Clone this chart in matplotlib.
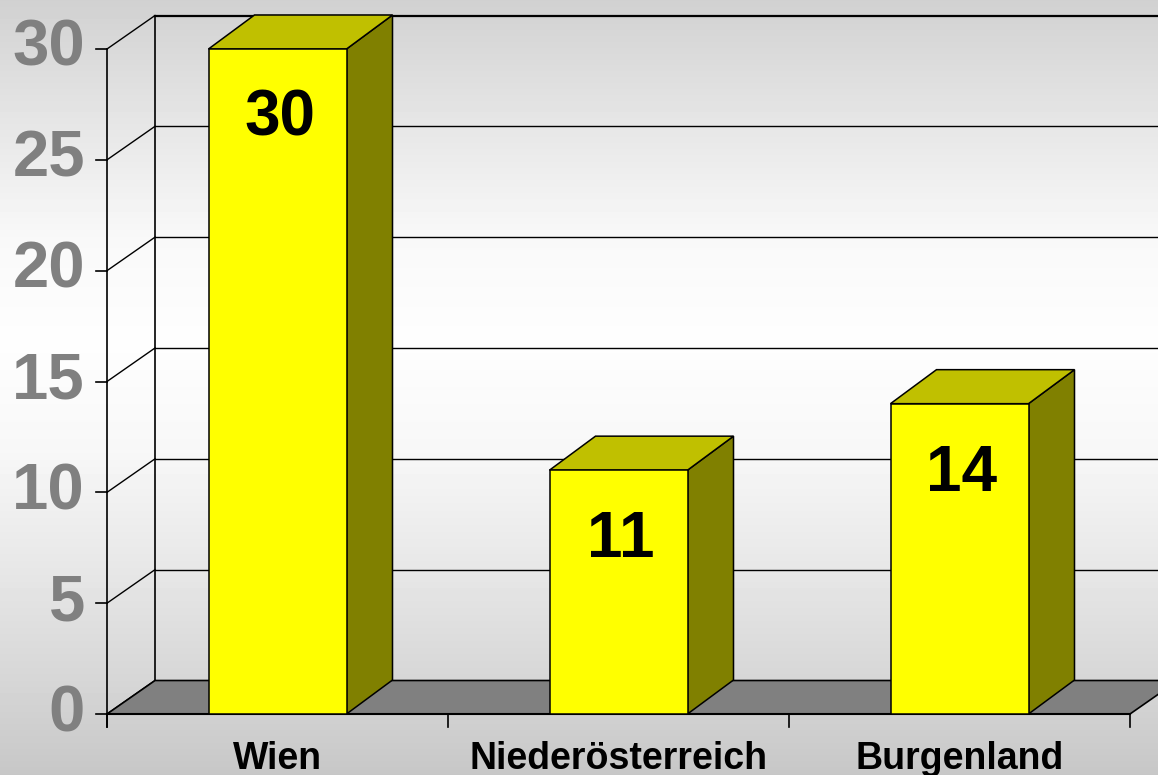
import numpy as np
import matplotlib
matplotlib.use("Agg")
import matplotlib.pyplot as plt
from matplotlib.patches import Polygon

# ---- data ----
categories = ["Wien", "Niederösterreich", "Burgenland"]
values = [30, 11, 14]
yticks = [0, 5, 10, 15, 20, 25, 30]

W_PX, H_PX = 1158, 775
fig = plt.figure(figsize=(W_PX / 100, H_PX / 100), dpi=100)

# background gradient
ax_bg = fig.add_axes([0, 0, 1, 1], zorder=-10)
stops_y = [0, 120, 240, 340, 450, 570, 680, 775]
stops_v = [0.82, 0.90, 0.975, 0.995, 0.97, 0.905, 0.84, 0.78]
yy = np.arange(H_PX)
col = np.interp(yy, stops_y, stops_v)
img = np.repeat(col[:, None], 2, axis=1)
ax_bg.imshow(img, cmap="gray", vmin=0, vmax=1, aspect="auto", extent=[0, 1, 1, 0])
ax_bg.set_xlim(0, 1)
ax_bg.set_ylim(1, 0)
ax_bg.axis("off")

# main axes: front plane
x0, x1 = 107, 1130
y0, y1 = 714, 49
ax = fig.add_axes([x0 / W_PX, (H_PX - y0) / H_PX, (x1 - x0) / W_PX, (y0 - y1) / H_PX])
ax.set_xlim(0, len(categories))
ymax = 30
ax.set_ylim(0, ymax)
ax.axis("off")
ax.patch.set_alpha(0)

pxx = (x1 - x0) / len(categories)   # px per x unit
pxy = (y0 - y1) / ymax              # px per y unit

WX, WY = 48 / pxx, 33.5 / pxy       # wall depth offset
BX, BY = 46 / pxx, 34 / pxy         # bar depth offset
n = len(categories)

# back wall gridlines
for v in yticks:
    lw = 1.6 if v == ymax else 1.0
    ax.plot([WX, n + WX], [v + WY, v + WY], color="black", lw=lw, clip_on=False, zorder=1)
    ax.plot([0, WX], [v, v + WY], color="black", lw=1.0, clip_on=False, zorder=1)
# wall vertical edge
ax.plot([WX, WX], [WY, ymax + WY], color="black", lw=1.2, clip_on=False, zorder=1)

# floor
floor = Polygon([[0, 0], [n, 0], [n + WX, WY], [WX, WY]], closed=True,
                facecolor="#808080", edgecolor="black", lw=1.2, clip_on=False, zorder=2)
ax.add_patch(floor)

# front y-axis and ticks
tick_len_x = 11 / pxx
tick_len_y = 13 / pxy
ax.plot([0, 0], [-tick_len_y, ymax], color="black", lw=1.2, clip_on=False, zorder=3)
for v in yticks:
    ax.plot([-tick_len_x, 0], [v, v], color="black", lw=1.2, clip_on=False, zorder=3)
    ax.text(-22 / pxx, v, str(v), ha="right", va="center", fontsize=47,
            fontweight="bold", color="#808080", family="Liberation Sans")
ax.plot([0, n], [0, 0], color="black", lw=1.5, clip_on=False, zorder=3)
for i in range(n + 1):
    ax.plot([i, i], [-tick_len_y, 0], color="black", lw=1.2, clip_on=False, zorder=3)

# bars
bw = 138 / pxx
for i, (cat, v) in enumerate(zip(categories, values)):
    c = i + 0.5
    l, r = c - bw / 2, c + bw / 2
    side = Polygon([[r, 0], [r + BX, BY], [r + BX, v + BY], [r, v]], closed=True,
                   facecolor="#808000", edgecolor="black", lw=1.1, clip_on=False, zorder=4)
    top = Polygon([[l, v], [r, v], [r + BX, v + BY], [l + BX, v + BY]], closed=True,
                  facecolor="#C0C000", edgecolor="black", lw=1.1, clip_on=False, zorder=4)
    front = Polygon([[l, 0], [r, 0], [r, v], [l, v]], closed=True,
                    facecolor="#FFFF00", edgecolor="black", lw=1.1, clip_on=False, zorder=5)
    ax.add_patch(side)
    ax.add_patch(top)
    ax.add_patch(front)
    ax.text(c + 2 / pxx, v - 70 / pxy, f"{v:.0f}", ha="center", va="center", fontsize=46,
            fontweight="bold", color="black", family="Liberation Sans", zorder=6)
    ax.text(c, -45 / pxy, cat, ha="center", va="center", fontsize=27,
            fontweight="bold", color="black", family="Liberation Sans", zorder=6)

fig.savefig("out.png", dpi=100)
